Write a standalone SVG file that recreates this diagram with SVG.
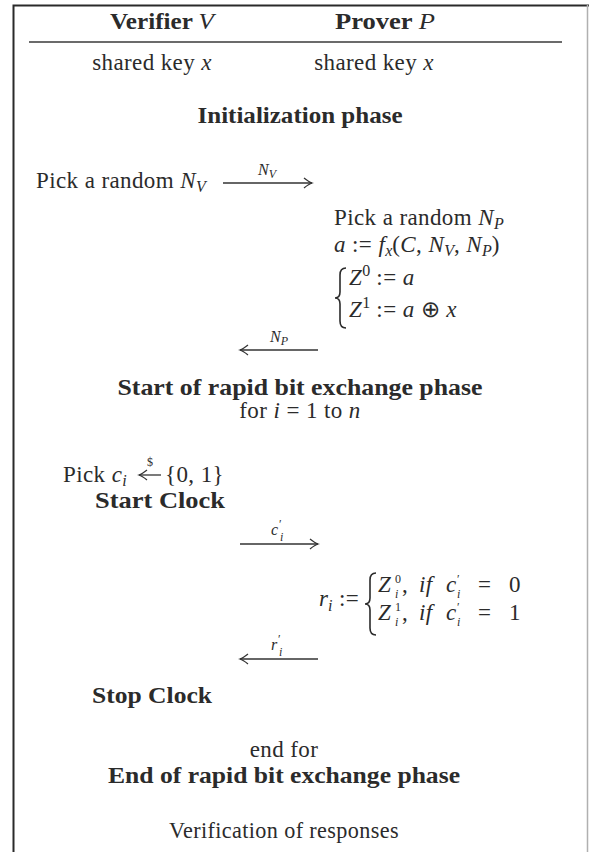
<svg xmlns="http://www.w3.org/2000/svg" width="589" height="852" viewBox="0 0 589 852">
<style>
text{font-family:"Liberation Serif","Times New Roman",serif;font-size:23px;fill:#2b2b2b;letter-spacing:0.4px}
.b{font-weight:bold;letter-spacing:0}
.i{font-style:italic}
.n{font-weight:normal}
.s{font-size:16px;letter-spacing:0}
.t{font-size:12px;letter-spacing:0}
.ln{stroke:#333;stroke-width:1.3;fill:none}
.br{stroke:#2b2b2b;stroke-width:1.6;fill:none}
</style>
<defs>
<marker id="ah" viewBox="-10 -6 12 12" refX="0" refY="0" markerWidth="12" markerHeight="12" orient="auto" markerUnits="userSpaceOnUse">
<path d="M-8,-5 Q-3,-1 0,0 Q-3,1 -8,5" fill="none" stroke="#333" stroke-width="1.3"/>
</marker>
</defs>
<rect width="589" height="852" fill="#fff"/>
<g id="frame">
<path d="M13.5,852 V5.5 H589" stroke="#2a2a2a" stroke-width="2" fill="none"/>
<line x1="587.5" y1="5" x2="587.5" y2="852" stroke="#b0b0b0" stroke-width="1.5"/>
<line x1="29" y1="42" x2="562" y2="42" stroke="#3a3a3a" stroke-width="1.6"/>
</g>
<g id="hdr-verifier"><text x="162" y="29" text-anchor="middle" class="b" textLength="104" lengthAdjust="spacingAndGlyphs">Verifier <tspan class="i n">V</tspan></text></g>
<g id="hdr-prover"><text x="385" y="29" text-anchor="middle" class="b" textLength="100" lengthAdjust="spacingAndGlyphs">Prover <tspan class="i n">P</tspan></text></g>
<g id="key-v"><text x="152" y="70" text-anchor="middle">shared key <tspan class="i">x</tspan></text></g>
<g id="key-p"><text x="374" y="70" text-anchor="middle">shared key <tspan class="i">x</tspan></text></g>
<g id="init"><text x="300" y="123" text-anchor="middle" class="b" textLength="205" lengthAdjust="spacingAndGlyphs">Initialization phase</text></g>
<g id="pick-nv"><text x="36" y="188">Pick a random <tspan class="i">N</tspan><tspan class="i s" dy="4">V</tspan></text></g>
<g id="prover-init">
<text x="334" y="225">Pick a random <tspan class="i">N</tspan><tspan class="i s" dy="4">P</tspan></text>
<text x="334" y="252"><tspan class="i">a</tspan> := <tspan class="i">f</tspan><tspan class="i s" dy="4">x</tspan><tspan dy="-4">(</tspan><tspan class="i">C</tspan>, <tspan class="i">N</tspan><tspan class="i s" dy="4">V</tspan><tspan dy="-4">, </tspan><tspan class="i">N</tspan><tspan class="i s" dy="4">P</tspan><tspan dy="-4">)</tspan></text>
<path class="br" d="M346,268 Q340,268 340,275 L340,292 Q340,298 335,298 Q340,298 340,304 L340,321 Q340,328 346,328"/>
<text x="349" y="285"><tspan class="i">Z</tspan><tspan class="s" dy="-9">0</tspan><tspan dy="9"> := </tspan><tspan class="i">a</tspan></text>
<text x="349" y="317"><tspan class="i">Z</tspan><tspan class="s" dy="-9">1</tspan><tspan dy="9"> := </tspan><tspan class="i">a</tspan> ⊕ <tspan class="i">x</tspan></text>
</g>
<g id="start-rapid"><text x="300" y="395" text-anchor="middle" class="b" textLength="365" lengthAdjust="spacingAndGlyphs">Start of rapid bit exchange phase</text></g>
<g id="for"><text x="300" y="418" text-anchor="middle">for <tspan class="i">i</tspan> = 1 to <tspan class="i">n</tspan></text></g>
<g id="pick-ci">
<text x="63" y="482">Pick <tspan class="i">c</tspan><tspan class="i s" dy="4">i</tspan></text>
<line class="ln" x1="161" y1="475" x2="139" y2="475" marker-end="url(#ah)"/>
<text x="150" y="466" text-anchor="middle" class="t">$</text>
<text x="224" y="482" text-anchor="end">{0, 1}</text>
</g>
<g id="start-clock"><text x="225" y="508" text-anchor="end" class="b" textLength="130" lengthAdjust="spacingAndGlyphs">Start Clock</text></g>
<g id="ri">
<text x="319" y="606" class="i">r</text>
<text x="328" y="611" class="i s">i</text>
<text x="339" y="606" letter-spacing="0">:=</text>
<path class="br" d="M376,573 Q370,573 370,580 L370,598 Q370,604 365,604 Q370,604 370,610 L370,628 Q370,635 376,635"/>
<text x="378" y="592" class="i">Z</text>
<text x="395" y="583" class="t">0</text>
<text x="395" y="598" class="t i">i</text>
<text x="402" y="592">,</text>
<text x="419" y="592" class="i">if</text>
<text x="446" y="592" class="i">c</text>
<text x="457" y="583" class="t">′</text>
<text x="457" y="598" class="t i">i</text>
<text x="478" y="592">=</text>
<text x="509" y="592">0</text>
<text x="378" y="620" class="i">Z</text>
<text x="395" y="611" class="t">1</text>
<text x="395" y="626" class="t i">i</text>
<text x="402" y="620">,</text>
<text x="419" y="620" class="i">if</text>
<text x="446" y="620" class="i">c</text>
<text x="457" y="611" class="t">′</text>
<text x="457" y="626" class="t i">i</text>
<text x="478" y="620">=</text>
<text x="509" y="620">1</text>
</g>
<g id="stop-clock"><text x="212" y="703" text-anchor="end" class="b" textLength="120" lengthAdjust="spacingAndGlyphs">Stop Clock</text></g>
<g id="endfor"><text x="284" y="757" text-anchor="middle" font-size="22">end for</text></g>
<g id="end-rapid"><text x="284" y="783" text-anchor="middle" class="b" textLength="352" lengthAdjust="spacingAndGlyphs">End of rapid bit exchange phase</text></g>
<g id="verif"><text x="284" y="838" text-anchor="middle" font-size="22" textLength="230" lengthAdjust="spacingAndGlyphs">Verification of responses</text></g>
<g id="connectors">
<line class="ln" x1="223" y1="183" x2="312" y2="183" marker-end="url(#ah)"/>
<text x="267" y="175" text-anchor="middle" class="i s">N<tspan class="t" dy="3">V</tspan></text>
<line class="ln" x1="318" y1="350" x2="240" y2="350" marker-end="url(#ah)"/>
<text x="279" y="342" text-anchor="middle" class="i s">N<tspan class="t" dy="3">P</tspan></text>
<line class="ln" x1="240" y1="544" x2="318" y2="544" marker-end="url(#ah)"/>
<text x="271" y="535" class="i s">c</text>
<text x="279" y="528" class="t">′</text>
<text x="280" y="541" class="t i">i</text>
<line class="ln" x1="318" y1="659" x2="240" y2="659" marker-end="url(#ah)"/>
<text x="271" y="650" class="i s">r</text>
<text x="278" y="643" class="t">′</text>
<text x="279" y="656" class="t i">i</text>
</g>
</svg>
